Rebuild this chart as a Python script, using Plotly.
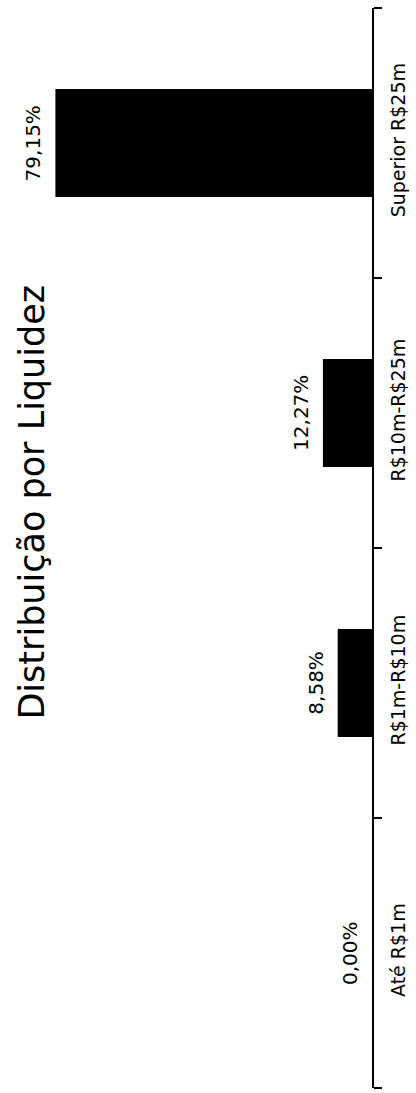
import plotly.graph_objects as go

# Liquidity buckets (bottom to top) and their share of the portfolio, in %
categories = ["Até R$1m", "R$1m-R$10m", "R$10m-R$25m", "Superior R$25m"]
shares = [0.00, 8.58, 12.27, 79.15]
share_labels = ["0,00%", "8,58%", "12,27%", "79,15%"]
title_text = "Distribuição por Liquidez"

FONT = "DejaVu Sans"

fig = go.Figure(
    go.Bar(
        x=shares,
        y=categories,
        orientation="h",
        marker=dict(color="black", line=dict(width=0)),
        hoverinfo="skip",
    )
)

# value labels sit just beyond the end of each bar, rotated like the rest of the chart
for cat, val, lab in zip(categories, shares, share_labels):
    fig.add_annotation(
        x=val, y=cat, xref="x", yref="y",
        text=lab, showarrow=False, textangle=-90,
        xanchor="right", yanchor="middle", xshift=-8,
        font=dict(family=FONT, size=20, color="black"),
    )

fig.add_annotation(
    x=0.085, y=0.5426, xref="paper", yref="paper",
    text=title_text, showarrow=False, textangle=-90,
    xanchor="center", yanchor="middle",
    font=dict(family=FONT, size=35, color="black"),
)

fig.update_layout(
    width=416, height=1093,
    margin=dict(l=0, r=44, t=8, b=5),
    paper_bgcolor="white", plot_bgcolor="white",
    bargap=0.6,
    showlegend=False,
    xaxis=dict(
        range=[93, 0], visible=False, showgrid=False, zeroline=False,
    ),
    yaxis=dict(
        side="right", range=[-0.5, 3.5],
        showline=True, linecolor="black", linewidth=2,
        ticks="outside", ticklen=8, tickwidth=1.5, tickcolor="black",
        tickson="boundaries", tickangle=-90,
        ticklabelstandoff=8,
        tickfont=dict(family=FONT, size=19, color="black"),
        showgrid=False, zeroline=False,
    ),
)

fig.write_html("out.html")
